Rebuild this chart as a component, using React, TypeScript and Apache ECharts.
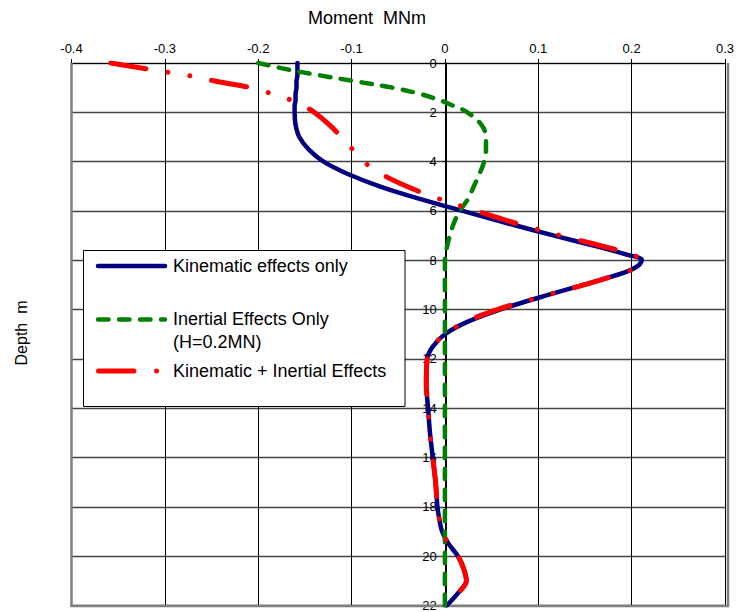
import React, { useEffect, useRef } from "react";
import * as echarts from "echarts";

// Depth below ground (m)
const DEPTH = [
  0, 0.25, 0.5, 0.75, 1, 1.25, 1.5, 1.75, 2, 2.5, 3, 3.5, 4, 4.5, 5, 5.5, 6, 6.5, 7, 7.5, 7.75, 8,
  8.25, 8.5, 9, 9.5, 10, 10.5, 11, 11.5, 12, 13, 14, 15, 16, 17, 18, 18.5, 19, 19.5, 20, 20.5, 21,
  21.5, 22,
];

// Moment (MNm) — kinematic effects only
const KINEMATIC = [
  -0.158, -0.158, -0.158, -0.159, -0.159, -0.16, -0.16, -0.161, -0.161, -0.16, -0.156, -0.146,
  -0.13, -0.104, -0.07, -0.028, 0.019, 0.067, 0.117, 0.169, 0.193, 0.211, 0.206, 0.192, 0.148,
  0.102, 0.059, 0.024, 0.0, -0.013, -0.019, -0.02, -0.018, -0.016, -0.013, -0.01, -0.008, -0.006,
  -0.003, 0.004, 0.014, 0.02, 0.023, 0.014, 0.002,
];

// Moment (MNm) — inertial effects only (H = 0.2 MN)
const INERTIAL = [
  -0.2, -0.17, -0.134, -0.095, -0.056, -0.027, -0.006, 0.01, 0.024, 0.039, 0.044, 0.044, 0.042,
  0.037, 0.031, 0.025, 0.016, 0.0095, 0.0053, 0.002, 0.001, 0, 0, 0, 0, 0, 0, 0, 0, 0, 0, 0, 0, 0,
  0, 0, 0, 0, 0, 0, 0, 0, 0, 0, 0,
];

// Moment (MNm) — kinematic + inertial effects
const COMBINED = [
  -0.358, -0.318, -0.276, -0.244, -0.208, -0.185, -0.165, -0.151, -0.14, -0.124, -0.111, -0.099,
  -0.087, -0.068, -0.041, -0.007, 0.034, 0.076, 0.124, 0.176, 0.199, 0.21, 0.206, 0.192, 0.149,
  0.101, 0.056, 0.022, 0.0, -0.013, -0.019, -0.02, -0.018, -0.016, -0.013, -0.01, -0.008, -0.006,
  -0.003, 0.004, 0.014, 0.02, 0.023, 0.014, 0.002,
];

const SERIES_NAMES = [
  "Kinematic effects only",
  "Inertial Effects Only",
  "Kinematic + Inertial Effects",
];
const INERTIAL_NOTE = "(H=0.2MN)";

const X_MIN = -0.4;
const X_MAX = 0.3;
const X_STEP = 0.1;
const Y_MIN = 0;
const Y_MAX = 22;
const Y_STEP = 2;

const TITLE_X = "Moment  MNm";
const TITLE_Y = "Depth  m";

const W = 737;
const H = 612;
const PLOT_L = 71.5;
const PLOT_T = 63;
const PLOT_R = 728;
const PLOT_B = 606;
const FONT = "'Liberation Sans', Arial, Helvetica, sans-serif";

const NAVY = "#000080";
const GREEN = "#008000";
const RED = "#ff0000";
const GREEN_DASH = [10.5, 10.5];
const RED_DASH = [35.5, 22.5, 0.01, 22, 0.01, 22.5];

export default function App() {
  const ref = useRef<HTMLDivElement>(null);

  useEffect(() => {
    if (!ref.current) return;
    const chart = echarts.init(ref.current, undefined, { renderer: "svg" });

    const toPairs = (vals: number[]) => DEPTH.map((d, i) => [vals[i], d]);

    // the depth axis sits on moment = 0: shift it inward from the grid's left edge
    const zeroOffset = ((0 - X_MIN) / (X_MAX - X_MIN)) * (PLOT_R - PLOT_L);

    const LEG_X = 83.5;
    const LEG_Y = 250.5;
    const LINE_X1 = 98;
    const LINE_X2 = 165;
    const TEXT_X = 173;

    const legendText = (text: string, y: number) => ({
      type: "text",
      x: TEXT_X,
      y,
      z: 101,
      style: {
        text,
        fill: "#000",
        fontSize: 18,
        fontFamily: FONT,
        align: "left",
        verticalAlign: "middle",
      },
    });

    chart.setOption({
      animation: false,
      backgroundColor: "#ffffff",
      textStyle: { fontFamily: FONT },
      grid: {
        left: PLOT_L,
        top: PLOT_T,
        right: W - PLOT_R,
        bottom: H - PLOT_B,
        containLabel: false,
      },
      xAxis: {
        type: "value",
        position: "top",
        min: X_MIN,
        max: X_MAX,
        interval: X_STEP,
        axisLine: { show: true, onZero: false, lineStyle: { color: "#000", width: 1 } },
        axisTick: { show: true, length: 4, lineStyle: { color: "#000", width: 1 } },
        axisLabel: {
          color: "#000",
          fontSize: 13,
          margin: 8,
          fontFamily: FONT,
          formatter: (v: number) => String(Math.round(v * 10) / 10),
        },
        splitLine: { show: true, lineStyle: { color: "#000", width: 1 } },
      },
      yAxis: {
        type: "value",
        position: "left",
        offset: -zeroOffset,
        inverse: true,
        min: Y_MIN,
        max: Y_MAX,
        interval: Y_STEP,
        axisLine: { show: true, onZero: false, lineStyle: { color: "#000", width: 1 } },
        axisTick: { show: true, length: 4, lineStyle: { color: "#000", width: 1 } },
        axisLabel: { color: "#000", fontSize: 13, margin: 10, fontFamily: FONT },
        splitLine: { show: true, lineStyle: { color: "#444", width: 1.3 } },
      },
      series: [
        {
          name: SERIES_NAMES[0],
          type: "line",
          data: toPairs(KINEMATIC),
          showSymbol: false,
          symbol: "none",
          smooth: 0.35,
          z: 3,
          lineStyle: { color: NAVY, width: 4.5, cap: "round", join: "round" },
        },
        {
          name: SERIES_NAMES[1],
          type: "line",
          data: toPairs(INERTIAL),
          showSymbol: false,
          symbol: "none",
          smooth: 0.35,
          z: 4,
          lineStyle: { color: GREEN, width: 4.5, type: GREEN_DASH, cap: "round", join: "round" },
        },
        {
          name: SERIES_NAMES[2],
          type: "line",
          data: toPairs(COMBINED),
          showSymbol: false,
          symbol: "none",
          smooth: 0.35,
          z: 5,
          lineStyle: { color: RED, width: 5, type: RED_DASH, cap: "round", join: "round" },
        },
      ],
      graphic: [
        {
          type: "polyline",
          z: 1,
          silent: true,
          shape: {
            points: [
              [PLOT_L, PLOT_T],
              [PLOT_L, PLOT_B],
              [PLOT_R, PLOT_B],
              [PLOT_R, PLOT_T],
            ],
          },
          style: { stroke: "#808080", lineWidth: 2.5, fill: null },
        },
        {
          type: "text",
          x: 367,
          y: 18,
          z: 50,
          style: {
            text: TITLE_X,
            fill: "#000",
            fontSize: 18,
            fontFamily: FONT,
            align: "center",
            verticalAlign: "middle",
          },
        },
        {
          type: "text",
          x: 21,
          y: 333,
          rotation: Math.PI / 2,
          z: 50,
          style: {
            text: TITLE_Y,
            fill: "#000",
            fontSize: 16,
            fontFamily: FONT,
            align: "center",
            verticalAlign: "middle",
          },
        },
        {
          type: "rect",
          z: 100,
          shape: { x: LEG_X, y: LEG_Y, width: 321.5, height: 156 },
          style: { fill: "#fff", stroke: "#000", lineWidth: 1 },
        },
        {
          type: "line",
          z: 101,
          shape: { x1: LINE_X1, y1: 266, x2: LINE_X2, y2: 266 },
          style: { stroke: NAVY, lineWidth: 4.5, lineCap: "round" },
        },
        {
          type: "line",
          z: 101,
          shape: { x1: LINE_X1, y1: 319.5, x2: LINE_X2, y2: 319.5 },
          style: { stroke: GREEN, lineWidth: 4.5, lineCap: "round", lineDash: GREEN_DASH },
        },
        {
          type: "line",
          z: 101,
          shape: { x1: LINE_X1 + 0.5, y1: 371, x2: LINE_X2, y2: 371 },
          style: { stroke: RED, lineWidth: 5, lineCap: "round", lineDash: RED_DASH },
        },
        legendText(SERIES_NAMES[0], 266),
        legendText(SERIES_NAMES[1], 319),
        legendText(INERTIAL_NOTE, 342),
        legendText(SERIES_NAMES[2], 370.5),
      ],
    });

    return () => chart.dispose();
  }, []);

  return (
    <div
      ref={ref}
      style={{ position: "absolute", left: 0, top: 0, width: W, height: H, background: "#fff" }}
    />
  );
}
